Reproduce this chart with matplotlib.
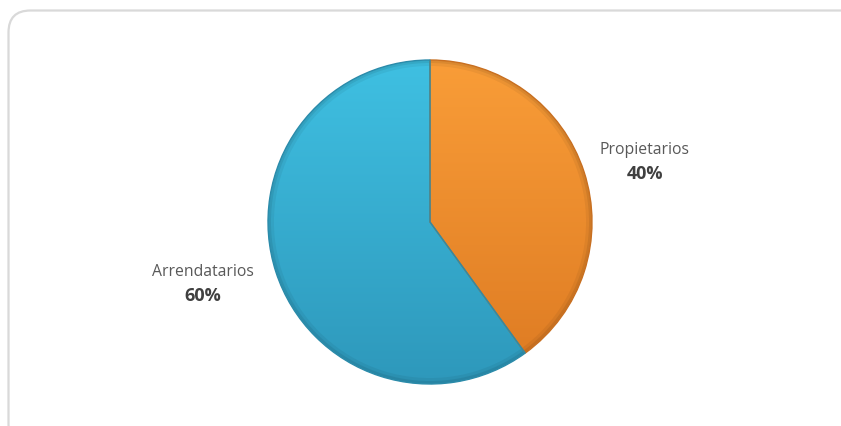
import numpy as np
import matplotlib
matplotlib.use("Agg")
import matplotlib.pyplot as plt
from matplotlib.patches import FancyBboxPatch
from matplotlib.colors import LinearSegmentedColormap

# === Data
labels = ["Propietarios", "Arrendatarios"]
shares = [40, 60]
top_colors = ["#F99D38", "#3FC0E2"]
bottom_colors = ["#DD7A22", "#2E98BB"]
edge_colors = ["#C86F20", "#2B8BAA"]

W, H = 841, 426
fig = plt.figure(figsize=(W / 100, H / 100), dpi=100)
ax = fig.add_axes([0, 0, 1, 1])

# === Rounded frame
frame = FancyBboxPatch((8.5, -20), 860, H - 10.5 + 20,
                       boxstyle="round,pad=0,rounding_size=22",
                       facecolor="white", edgecolor="#D9D9D9", linewidth=1.6)
ax.add_patch(frame)

# === Pie
cx, cy, r = 430, 204, 162
wedges, _ = ax.pie(shares, startangle=90, counterclock=False, radius=r,
                   center=(cx, cy), frame=True,
                   wedgeprops=dict(linewidth=0))
ax.set_xlim(0, W)
ax.set_ylim(0, H)
ax.set_aspect("equal")
ax.axis("off")

grad = np.linspace(0, 1, 256).reshape(-1, 1)
for w, c0, c1, ec in zip(wedges, top_colors, bottom_colors, edge_colors):
    w.set_facecolor("none")
    cmap = LinearSegmentedColormap.from_list("g", [c1, c0])
    im = ax.imshow(grad, cmap=cmap, origin="lower", aspect="auto",
                   extent=(cx - r, cx + r, cy - r, cy + r), zorder=2)
    im.set_clip_path(w)
    w.set_edgecolor(ec)
    w.set_linewidth(1.0)
    w.set_zorder(3)

# soft darker rim for the bevel look
for lw, a in [(5, 0.05), (2.5, 0.07)]:
    ring = plt.Circle((cx, cy), r - lw / 2, facecolor="none",
                      edgecolor="black", linewidth=lw, alpha=a, zorder=2.5)
    ring.set_clip_path(plt.Circle((cx, cy), r, transform=ax.transData))
    ax.add_patch(ring)

# === Labels
font = "Open Sans"
label_pos = [(645, H - 150), (203, H - 272)]
for (x, y), name, val in zip(label_pos, labels, shares):
    ax.text(x, y, name, ha="center", va="center", fontsize=11.3,
            color="#595959", family=font)
    ax.text(x, y - 24, f"{val}%", ha="center", va="center", fontsize=13,
            color="#404040", family=font, fontweight="bold")

fig.savefig("out.png", dpi=100, facecolor="white")
